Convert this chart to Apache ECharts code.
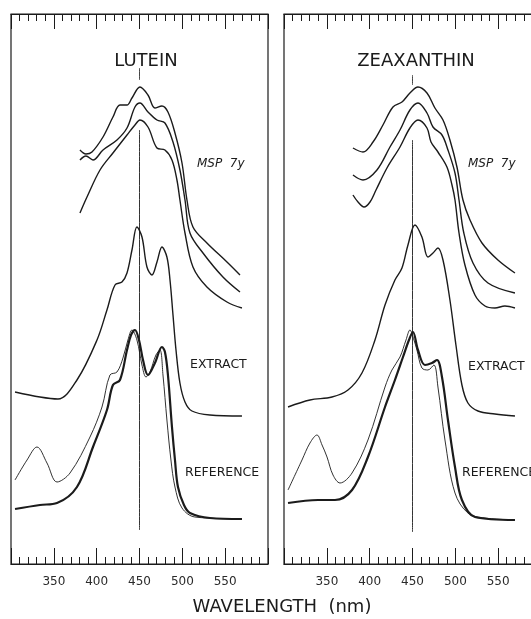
<!DOCTYPE html>
<html>
<head>
<meta charset="utf-8">
<script src="https://cdn.jsdelivr.net/npm/echarts@6/dist/echarts.min.js"></script>
<style>
  html, body { margin: 0; padding: 0; background: #ffffff; }
  #chart { width: 531px; height: 619px; }
</style>
</head>
<body>
<div id="chart"></div>
<script>
// Absorbance spectra, [wavelength (nm), relative absorbance (offset traces)]

// ---- Lutein ----
const luteinMsp1 = [[380.5,82.8],[387.5,82.0],[394.5,82.4],[407.4,85.4],[419,89.4],[427.2,91.8],[435.4,91.8],[441.2,93.2],[450.5,95.4],[459.9,93.8],[468,91.2],[476.2,91.6],[483.2,90.4],[491.4,86.2],[499.6,80.2],[505.4,72.8],[512.4,67.4],[528.7,64.2],[552.1,60.4],[567.3,57.8]];
const luteinMsp2 = [[380.5,80.8],[387.5,81.6],[395.7,80.8],[407.4,82.8],[423.7,84.8],[435.4,87.2],[444.7,91.4],[450.5,92.2],[459.9,90.4],[470.4,88.8],[479.7,88.2],[489.1,84.4],[497.2,78.8],[503.1,72.8],[508.9,66.2],[524.1,62.2],[547.4,57.4],[567.3,54.4]];
const luteinMsp3 = [[380.5,70.2],[388.7,73.4],[403.9,78.8],[419,82.2],[435.4,85.8],[444.7,87.8],[450.5,88.8],[459.9,87.4],[470.4,83.2],[479.7,82.8],[487.9,80.8],[493.7,76.8],[497.2,72.8],[503.1,66.2],[512.4,59.4],[528.7,55.4],[552.1,52.4],[569.6,51.2]];
const luteinExtract = [[304.7,34.4],[333.8,33.4],[354.8,33.0],[377,36.8],[400.4,44.8],[412,50.8],[421.4,55.8],[429.5,56.4],[435.4,58.2],[441.2,62.8],[447,67.4],[452.9,65.4],[458.7,59.4],[464.5,57.8],[470.4,60.4],[476.2,63.4],[482,61.4],[485.6,56.8],[489.1,49.8],[492.6,42.8],[497.2,36.2],[503.1,32.4],[511.2,30.6],[532.2,29.8],[569.6,29.6]];
const luteinRefThin = [[304.7,16.8],[318.7,20.8],[330.3,23.4],[342,20.2],[353.7,16.4],[368.9,18.2],[392.2,25.4],[406.2,31.4],[415.5,37.8],[423.7,38.4],[430.7,41.2],[436.5,44.8],[441.2,46.8],[447,44.8],[452.9,39.8],[457.6,37.4],[462.2,38.4],[469.2,41.8],[473.9,42.8],[477.4,37.8],[482,28.8],[486.7,20.8],[491.4,15.4],[499.6,11.2],[514.7,9.4],[569.6,9.0]];
const luteinRefThick = [[304.7,11.0],[333.8,11.8],[353.7,12.2],[377,15.4],[395.7,23.4],[412,30.8],[419,35.8],[427.2,36.8],[435.4,42.8],[440.1,45.8],[444.7,46.8],[449.4,44.8],[454.1,40.8],[459.9,37.8],[468,40.2],[476.2,43.4],[479.7,42.4],[483.2,37.8],[487.9,27.4],[491.4,20.8],[494.9,15.4],[501.9,11.8],[508.9,10.2],[532.2,9.2],[569.6,9.0]];

// ---- Zeaxanthin ----
const zeaMsp1 = [[380.5,83.2],[392.2,82.4],[403.9,84.4],[415.5,87.8],[427.2,91.4],[437.7,92.4],[447,94.2],[456.4,95.4],[466.9,94.2],[476.2,91.2],[485.6,88.8],[493.7,84.8],[501.9,79.4],[508.9,72.8],[517.1,68.8],[531.1,64.2],[549.7,60.8],[569.6,58.2]];
const zeaMsp2 = [[380.5,77.8],[392.2,76.8],[408.5,78.8],[423.7,83.4],[435.4,86.8],[447,90.8],[456.4,92.2],[466.9,90.2],[473.9,87.4],[484.4,85.8],[491.4,82.8],[499.6,78.2],[504.3,72.8],[509.9,66.2],[520.6,60.2],[538.1,56.2],[569.6,54.2]];
const zeaMsp3 = [[380.5,73.8],[386.4,72.4],[393.4,71.4],[400.4,72.4],[407.4,74.8],[420.2,79.2],[435.4,83.4],[447,87.2],[456.4,88.8],[466.9,87.2],[471.6,84.4],[479.7,82.4],[490.2,79.4],[496.1,75.8],[499.6,72.8],[504.3,66.2],[511.2,59.8],[522.9,53.8],[534.6,51.6],[546.2,51.2],[557.9,51.6],[569.6,51.2]];
const zeaExtract = [[304.7,31.4],[330.3,32.8],[356,33.4],[374.7,34.8],[391,38.2],[406.2,44.8],[417.9,51.8],[429.5,56.8],[437.7,59.2],[444.7,63.8],[452.9,67.8],[461,65.4],[468,61.4],[473.9,62.2],[479.7,63.2],[485.6,60.8],[493.7,52.8],[500.7,43.8],[507.7,35.8],[514.7,32.2],[526.4,30.6],[546.2,30.0],[569.6,29.6]];
const zeaRefThin = [[304.7,14.8],[321,20.8],[330.3,24.2],[338.5,25.8],[344.4,23.8],[350.2,21.4],[357.2,17.8],[365.4,16.2],[379.4,18.2],[398,24.8],[417.9,35.4],[426,38.8],[435.4,41.4],[442.4,44.8],[447,46.8],[451.7,44.8],[455.2,42.8],[461,39.2],[468,38.8],[475,39.8],[479.7,35.4],[487.9,24.8],[499.6,14.2],[514.7,10.2],[534.6,9.2],[569.6,8.8]];
const zeaRefThick = [[304.7,12.2],[339.7,12.8],[359.5,12.8],[379.4,14.8],[398,21.4],[417.9,31.4],[429.5,36.8],[438.9,41.4],[445.9,44.8],[450.5,46.4],[456.4,42.8],[464.5,39.8],[472.7,40.2],[478.6,40.8],[484.4,37.4],[491.4,28.8],[499.6,19.4],[507.7,12.8],[522.9,9.4],[569.6,8.8]];

// 450 nm reference marks (short tick under the title, long line through the traces)
const lutein450Short = [[450,99.2],[450,96.8]];
const lutein450Long = [[450,86.8],[450,6.8]];
const zea450Short = [[450,97.8],[450,95.8]];
const zea450Long = [[450,84.8],[450,6.4]];

const tickLabels = [350, 400, 450, 500, 550];
const panelTitles = ['LUTEIN', 'ZEAXANTHIN'];
const traceLabels = ['MSP  7y', 'EXTRACT', 'REFERENCE'];

const INK = '#1b1b1b';
const FONT = 'DejaVu Sans';

function bottomAxis(gridIndex) {
  return {
    type: 'value', gridIndex, position: 'bottom', min: 300, max: 600, interval: 50,
    axisLine: { show: true, lineStyle: { color: INK, width: 1.2 } },
    axisTick: { show: true, inside: true, length: 16, lineStyle: { color: INK, width: 1 } },
    minorTick: { show: true, splitNumber: 5, length: 7, lineStyle: { color: INK, width: 1 } },
    splitLine: { show: false }, minorSplitLine: { show: false },
    axisLabel: {
      show: true, margin: 12, color: '#2a2a2a', fontFamily: FONT, fontSize: 12,
      formatter: v => (tickLabels.indexOf(v) >= 0 ? String(v) : '')
    }
  };
}
function topAxis(gridIndex) {
  return {
    type: 'value', gridIndex, position: 'top', min: 300, max: 600, interval: 50,
    axisLine: { show: true, lineStyle: { color: INK, width: 1.2 } },
    axisTick: { show: true, inside: true, length: 15, lineStyle: { color: INK, width: 1 } },
    minorTick: { show: true, splitNumber: 5, length: 7, lineStyle: { color: INK, width: 1 } },
    splitLine: { show: false }, minorSplitLine: { show: false },
    axisLabel: { show: false }
  };
}
function yAxisFor(gridIndex) {
  return { type: 'value', gridIndex, min: 0, max: 110, show: false, splitLine: { show: false } };
}
function trace(data, gridIndex, width, color) {
  return {
    type: 'line', data, xAxisIndex: gridIndex * 2, yAxisIndex: gridIndex,
    showSymbol: false, smooth: 0.35, silent: true, animation: false,
    lineStyle: { color: color || INK, width }
  };
}

const chart = echarts.init(document.getElementById('chart'), null, { renderer: 'canvas' });
chart.setOption({
  backgroundColor: '#ffffff',
  animation: false,
  grid: [
    { left: 11, top: 14, width: 257, height: 550, outerBoundsMode: 'none', containLabel: false,
      show: true, borderColor: INK, borderWidth: 1.2, backgroundColor: 'transparent' },
    // second panel runs past the right edge of the page
    { left: 284, top: 14, width: 257, height: 550, outerBoundsMode: 'none', containLabel: false,
      show: true, borderColor: INK, borderWidth: 1.2, backgroundColor: 'transparent' }
  ],
  xAxis: [bottomAxis(0), topAxis(0), bottomAxis(1), topAxis(1)],
  yAxis: [yAxisFor(0), yAxisFor(1)],
  title: [
    { text: panelTitles[0], left: 141, top: 47, textAlign: 'center',
      textStyle: { fontFamily: FONT, fontSize: 18, fontWeight: 'normal', color: INK } },
    { text: panelTitles[1], left: 411, top: 47, textAlign: 'center',
      textStyle: { fontFamily: FONT, fontSize: 18, fontWeight: 'normal', color: INK } },
    { text: 'WAVELENGTH  (nm)', left: 277, top: 593, textAlign: 'center',
      textStyle: { fontFamily: FONT, fontSize: 18, fontWeight: 'normal', color: INK } }
  ],
  graphic: [
    { type: 'text', left: 197, top: 158, style: { text: traceLabels[0], font: 'italic 12px "DejaVu Sans"', fill: INK } },
    { type: 'text', left: 468, top: 158, style: { text: traceLabels[0], font: 'italic 12px "DejaVu Sans"', fill: INK } },
    { type: 'text', left: 190, top: 358, style: { text: traceLabels[1], font: '12.5px "DejaVu Sans"', fill: INK } },
    { type: 'text', left: 468, top: 360, style: { text: traceLabels[1], font: '12.5px "DejaVu Sans"', fill: INK } },
    { type: 'text', left: 185, top: 466, style: { text: traceLabels[2], font: '12.5px "DejaVu Sans"', fill: INK } },
    { type: 'text', left: 462, top: 466, style: { text: traceLabels[2], font: '12.5px "DejaVu Sans"', fill: INK } }
  ],
  series: [
    trace(lutein450Short, 0, 1, '#444'),
    trace(lutein450Long, 0, 1, '#333'),
    trace(luteinMsp1, 0, 1.4),
    trace(luteinMsp2, 0, 1.4),
    trace(luteinMsp3, 0, 1.4),
    trace(luteinExtract, 0, 1.4),
    trace(luteinRefThin, 0, 0.9),
    trace(luteinRefThick, 0, 2.2),
    trace(zea450Short, 1, 1, '#444'),
    trace(zea450Long, 1, 1, '#333'),
    trace(zeaMsp1, 1, 1.4),
    trace(zeaMsp2, 1, 1.4),
    trace(zeaMsp3, 1, 1.4),
    trace(zeaExtract, 1, 1.4),
    trace(zeaRefThin, 1, 0.9),
    trace(zeaRefThick, 1, 2.2)
  ]
});
</script>
</body>
</html>
